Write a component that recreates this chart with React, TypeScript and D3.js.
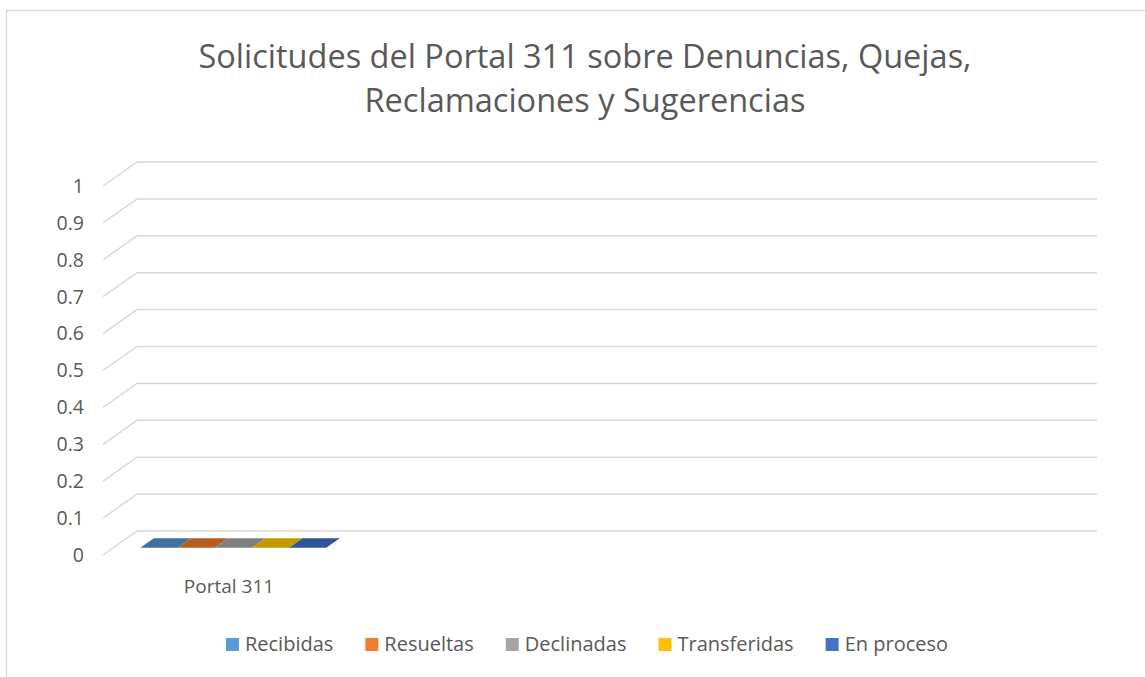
import React, { useEffect, useRef } from 'react'
import * as d3 from 'd3'

const categories = ['Portal 311', '', '', '']
const seriesNames = ['Recibidas', 'Resueltas', 'Declinadas', 'Transferidas', 'En proceso']
// only the first category has data (all zero); the others are empty slots
const seriesValues: (number | null)[][] = [
  [0, null, null, null],
  [0, null, null, null],
  [0, null, null, null],
  [0, null, null, null],
  [0, null, null, null]
]
const yTicks = [0, 0.1, 0.2, 0.3, 0.4, 0.5, 0.6, 0.7, 0.8, 0.9, 1]
const titleLines = ['Solicitudes del Portal 311 sobre Denuncias, Quejas,', 'Reclamaciones y Sugerencias']

const legendColors = ['#5b9bd5', '#ed7d31', '#a5a5a5', '#ffc000', '#4472c4']
const topColors = ['#41719c', '#b55d22', '#7f7f7f', '#c49a00', '#2f5597']
const frontColors = ['#4a86bd', '#d06c28', '#909090', '#e0ad00', '#3a64ad']

const W = 1145
const H = 677
const FONT = '"Open Sans", sans-serif'

export default function App () {
  const ref = useRef<SVGSVGElement>(null)

  useEffect(() => {
    const svg = d3.select(ref.current)
    svg.selectAll('*').remove()

    // back wall of the plot and the 3d offset of the front edge
    const back = { left: 137, right: 1097, top: 162, bottom: 531 }
    const dx = -34
    const dy = 24

    // chart area border
    svg.append('path')
      .attr('d', `M6.5,${H} V10.5 H${W}`)
      .attr('fill', 'none')
      .attr('stroke', '#d9d9d9')
      .attr('stroke-width', 1.5)

    // title
    const title = svg.append('text')
      .attr('text-anchor', 'middle')
      .attr('font-family', FONT)
      .attr('font-size', 32.5)
      .attr('fill', '#595959')
    titleLines.forEach((t, i) => {
      title.append('tspan').attr('x', 585).attr('y', 68 + i * 44).text(t)
    })

    const y = d3.scaleLinear().domain([0, 1]).range([back.bottom, back.top])
    const x = d3.scaleBand<string>()
      .domain(categories.map((c, i) => i + ':' + c))
      .range([back.left, back.right])
      .paddingInner(0.225)
      .paddingOuter(0.1125)
    const xs = d3.scaleBand<string>().domain(seriesNames).range([0, x.bandwidth()])

    // gridlines: floor diagonal + back wall
    const grid = svg.append('g')
    yTicks.forEach(t => {
      grid.append('path')
        .attr('d', `M${back.left + dx},${y(t) + dy} L${back.left},${y(t)} H${back.right}`)
        .attr('fill', 'none')
        .attr('stroke', '#d9d9d9')
        .attr('stroke-width', 1.5)
    })

    // y tick labels
    svg.append('g')
      .selectAll('text')
      .data(yTicks)
      .join('text')
      .attr('x', 84)
      .attr('y', d => y(d) + dy)
      .attr('dy', '0.35em')
      .attr('text-anchor', 'end')
      .attr('font-family', FONT)
      .attr('font-size', 19.5)
      .attr('fill', '#595959')
      .text(d => d3.format('~g')(d))

    // bars as boxes (depth between f0 and f1 of the floor depth)
    const f0 = 0.3
    const f1 = 0.7
    const bars = svg.append('g')
    seriesNames.forEach((s, si) => {
      categories.forEach((c, ci) => {
        const v = seriesValues[si][ci]
        if (v == null) return
        const x0 = (x(ci + ':' + c) as number) + (xs(s) as number)
        const x1 = x0 + xs.bandwidth()
        const yb = y(0)
        const yt = y(v)
        const p = (px: number, py: number, f: number) => `${px + dx * f},${py + dy * f}`
        // top face
        bars.append('path')
          .attr('d', `M${p(x0, yt, f1)} L${p(x0, yt, f0)} L${p(x1, yt, f0)} L${p(x1, yt, f1)} Z`)
          .attr('fill', topColors[si])
        if (yb - yt > 0) {
          bars.append('path')
            .attr('d', `M${p(x0, yt, f1)} L${p(x1, yt, f1)} L${p(x1, yb, f1)} L${p(x0, yb, f1)} Z`)
            .attr('fill', frontColors[si])
          bars.append('path')
            .attr('d', `M${p(x1, yt, f1)} L${p(x1, yt, f0)} L${p(x1, yb, f0)} L${p(x1, yb, f1)} Z`)
            .attr('fill', topColors[si])
        }
      })
    })

    // category labels
    svg.append('g')
      .selectAll('text')
      .data(categories)
      .join('text')
      .attr('x', (d, i) => (x(i + ':' + d) as number) + x.bandwidth() / 2 + dx + 6)
      .attr('y', 593)
      .attr('text-anchor', 'middle')
      .attr('font-family', FONT)
      .attr('font-size', 19)
      .attr('fill', '#595959')
      .text(d => d)

    // legend
    const legend = svg.append('g')
    const sq = 13
    const gapText = 6
    const gapItem = 32
    const items = seriesNames.map((s, i) => {
      const g = legend.append('g')
      g.append('rect')
        .attr('y', 638)
        .attr('width', sq)
        .attr('height', sq)
        .attr('fill', legendColors[i])
      const t = g.append('text')
        .attr('x', sq + gapText)
        .attr('y', 651)
        .attr('font-family', FONT)
        .attr('font-size', 20)
        .attr('fill', '#595959')
        .text(s)
      const w = (t.node() as SVGTextElement).getComputedTextLength()
      return { g, w: sq + gapText + w }
    })
    const total = d3.sum(items, d => d.w) + gapItem * (items.length - 1)
    let cx = 587 - total / 2
    items.forEach(it => {
      it.g.attr('transform', `translate(${cx},0)`)
      cx += it.w + gapItem
    })
  }, [])

  return (
    <svg
      ref={ref}
      width={W}
      height={H}
      style={{ position: 'absolute', left: 0, top: 0, background: '#fff' }}
    />
  )
}
